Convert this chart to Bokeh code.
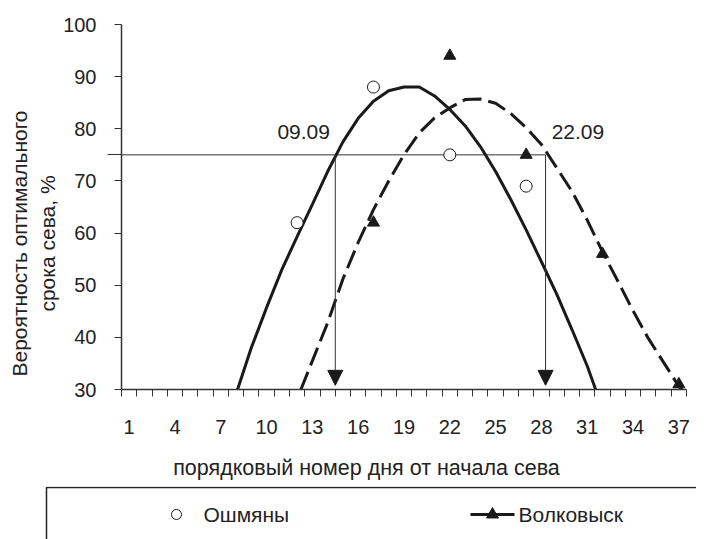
from bokeh.plotting import figure
from bokeh.models import FixedTicker, Range1d, Arrow, NormalHead
from bokeh.layouts import column, row
from bokeh.embed import file_html
from bokeh.resources import INLINE
from bokeh.core.properties import value

# ---- data ----
days_oshmyany = [12, 17, 22, 27]
prob_oshmyany = [62, 88, 75, 69]

days_volkovysk = [17, 22, 27, 32, 37]
prob_volkovysk = [62, 94, 75, 56, 31]

trend_osh_x = [8.1, 9, 10, 11, 12, 13, 14, 15, 16, 17, 18, 19, 20, 21, 22, 23,
               24, 25, 26, 27, 28, 29, 30, 31, 31.55]
trend_osh_y = [30, 38, 45.7, 53, 59.3, 65.5, 71.8, 77.5, 82, 85.3, 87.3, 88, 88,
               86.3, 83.7, 80.6, 76.6, 71.8, 66.4, 60.6, 54.5, 48.3, 41.5, 34.5, 30]

trend_volk_x = [12.25, 13, 14, 15, 16, 17, 18, 19, 20, 21, 22, 23, 24, 25, 26,
                27, 28, 29, 30, 31, 32, 33, 34, 35, 36, 37, 37.2]
trend_volk_y = [30, 35.5, 42.8, 51.2, 58.2, 64.5, 70, 75, 79.2, 82.1, 84, 85.6,
                85.7, 84.9, 82.9, 80.2, 77, 72.5, 68, 62.5, 56.4, 50.8, 45.1,
                39.8, 35.2, 30.6, 30]

x_tick_labels = list(range(1, 38, 3))
x_categories = list(range(1, 38))
y_ticks = [30, 40, 50, 60, 70, 80, 90, 100]

threshold = 75
date_days = [14.5, 28.27]
date_labels = ["09.09", "22.09"]
date_label_x = [12.43, 30.39]
date_label_y = [79.3, 79.3]

y_title_lines = ["Вероятность оптимального", "срока сева, %"]
x_title = "порядковый номер дня от начала сева"
legend_names = ["Ошмяны", "Волковыск"]

FONT = value("Liberation Sans")
INK = "#1a1a1a"
GREY = "#333333"
TXT = "#222222"

W = 696
TITLE_W = 60
TOP_H = 445     # plot strip (frame 24..389 + tick labels)
XT_H = 41       # x title strip
LG_H = 53       # legend strip


def blank(width, height):
    f = figure(width=width, height=height, output_backend="svg", toolbar_location=None,
               x_range=Range1d(0, width), y_range=Range1d(height, 0),
               x_axis_location=None, y_axis_location=None, min_border=0)
    f.outline_line_color = None
    f.xgrid.visible = False
    f.ygrid.visible = False
    return f


p = figure(width=W - TITLE_W, height=TOP_H, output_backend="svg",
           toolbar_location=None,
           x_range=Range1d(0.5, 37.5), y_range=Range1d(30, 100),
           min_border_left=121 - TITLE_W, min_border_right=10, min_border_top=24,
           min_border_bottom=TOP_H - 389)
p.outline_line_color = None
p.xgrid.visible = False
p.ygrid.visible = False

# x axis
xa = p.xaxis[0]
xa.ticker = FixedTicker(ticks=x_tick_labels,
                        minor_ticks=[c - 0.5 for c in x_categories] + [x_categories[-1] + 0.5])
xa.major_tick_line_color = None
xa.major_tick_out = 0
xa.major_tick_in = 0
xa.minor_tick_out = 7
xa.minor_tick_in = 0
xa.minor_tick_line_color = GREY
xa.axis_line_color = GREY
xa.axis_line_width = 1.5
xa.major_label_standoff = 23
xa.major_label_text_font = "Liberation Sans"
xa.major_label_text_font_size = "20px"
xa.major_label_text_color = TXT

# y axis
ya = p.yaxis[0]
ya.ticker = FixedTicker(ticks=y_ticks, minor_ticks=[threshold])
ya.major_tick_out = 7
ya.major_tick_in = 0
ya.major_tick_line_color = GREY
ya.minor_tick_out = 14
ya.minor_tick_in = 0
ya.minor_tick_line_color = GREY
ya.axis_line_color = GREY
ya.axis_line_width = 1.5
ya.major_label_standoff = 11
ya.major_label_text_font = "Liberation Sans"
ya.major_label_text_font_size = "20px"
ya.major_label_text_color = TXT

# threshold line and arrows
p.line([0.5, date_days[1]], [threshold, threshold], line_width=1, color=GREY)
for d in date_days:
    p.add_layout(Arrow(x_start=d, y_start=threshold, x_end=d, y_end=30.8,
                       line_width=1, line_color=GREY,
                       end=NormalHead(size=15, fill_color=INK, line_color=INK)))

# trend curves
p.line(trend_osh_x, trend_osh_y, line_width=3, color=INK)
p.line(trend_volk_x, trend_volk_y, line_width=3, color=INK, line_dash="19 7")

# observed points
p.scatter(days_oshmyany, prob_oshmyany, marker="circle", size=12,
          fill_color="white", line_color=INK, line_width=1)
p.scatter(days_volkovysk, prob_volkovysk, marker="triangle", size=12,
          fill_color=INK, line_color=INK)

p.text(x=date_label_x, y=date_label_y, text=date_labels, text_align="center",
       text_baseline="middle", text_font=FONT, text_font_size="21px",
       text_color=TXT)

# ---- y-axis title strip (pixel coordinates) ----
yt = blank(TITLE_W, TOP_H)
yt.text(x=[19, 46.5], y=[243, 243], text=y_title_lines, angle=1.5707963,
        text_align="center", text_baseline="middle", text_font=FONT,
        text_font_size="21px", text_color=TXT)

# ---- x-axis title strip ----
xt = blank(W, XT_H)
xt.text(x=[366], y=[22], text=[x_title], text_align="center",
        text_baseline="middle", text_font=FONT, text_font_size="21.5px",
        text_color=TXT)

# ---- legend strip ----
lg = blank(W, LG_H)
lg.line([46, 46, 760], [90, 1, 1], line_width=1.5, color=TXT)
lg.scatter([176], [28], marker="circle", size=10, fill_color="white",
           line_color=INK, line_width=1)
lg.line([470, 514], [28, 28], line_width=3, color=INK)
lg.scatter([492], [28], marker="triangle", size=12, fill_color=INK, line_color=INK)
lg.text(x=[203, 518], y=[28, 28], text=legend_names, text_align="left",
        text_baseline="middle", text_font=FONT, text_font_size="21px",
        text_color=TXT)

for fig in (p, yt, xt, lg):
    if "frame_align" in fig.properties():
        fig.frame_align = False

layout = column(row(yt, p), xt, lg)
open("out.html", "w").write(file_html(layout, INLINE))
